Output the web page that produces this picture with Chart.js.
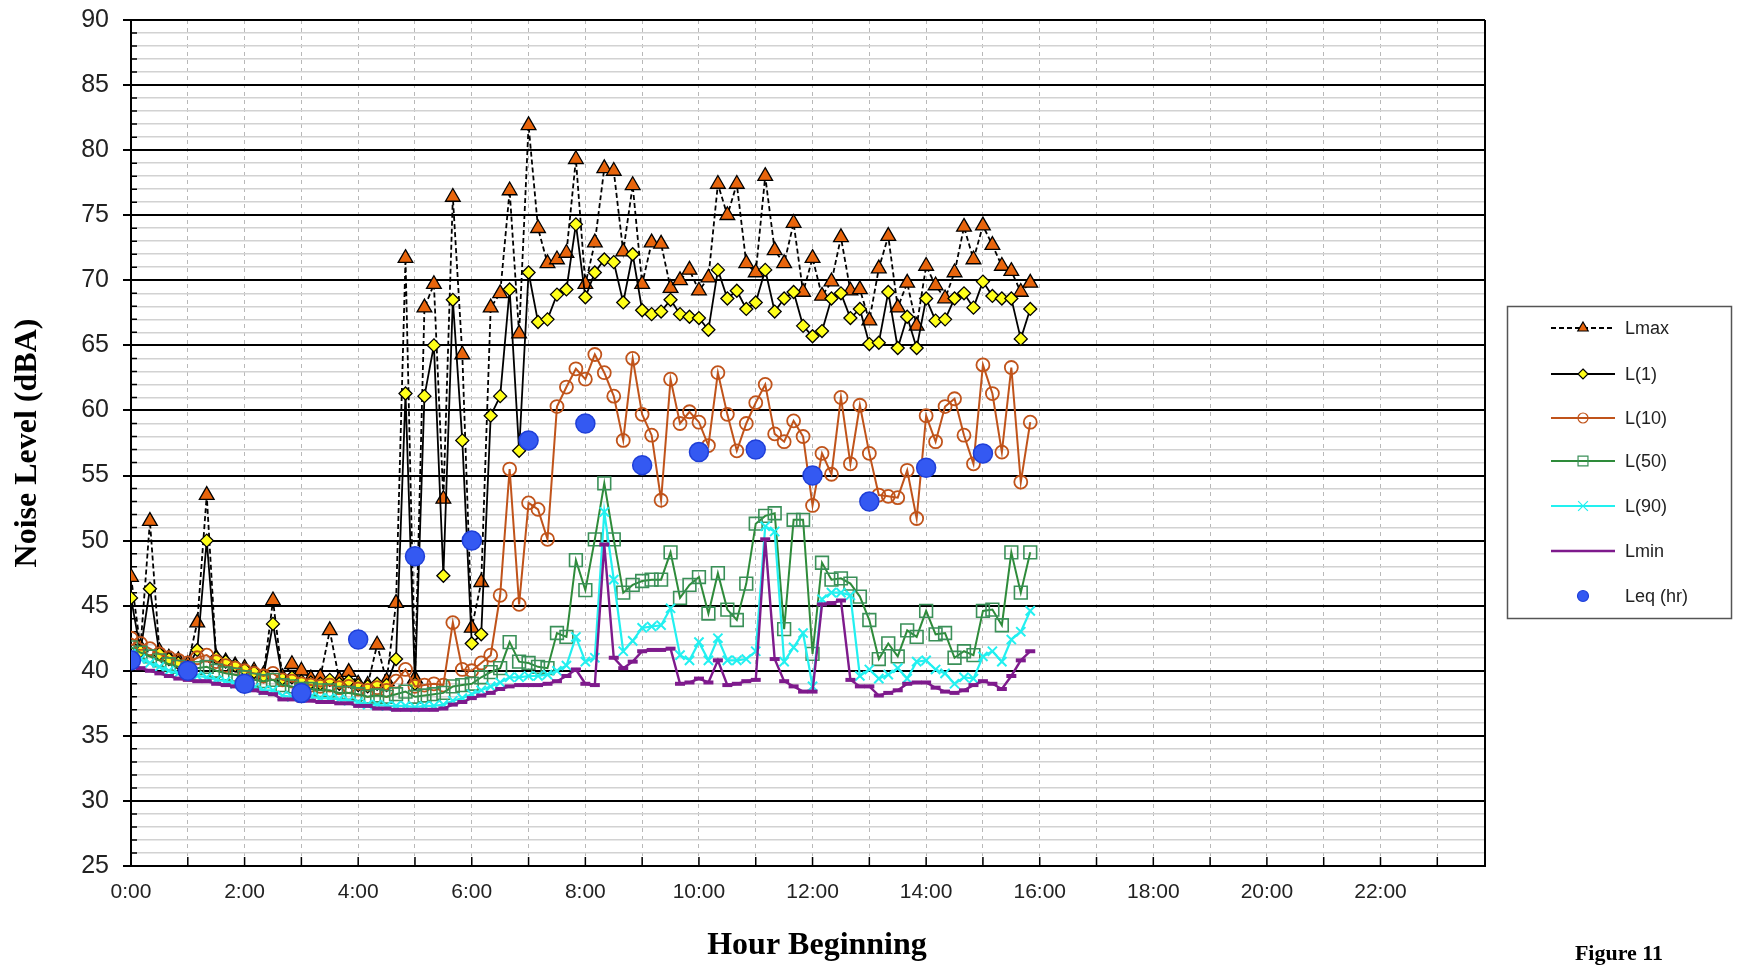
<!DOCTYPE html>
<html>
<head>
<meta charset="utf-8">
<script src="https://cdn.jsdelivr.net/npm/chart.js@4.4.1/dist/chart.umd.min.js"></script>
<style>
  html, body { margin: 0; padding: 0; background: #fff; }
  #wrap { position: relative; width: 1739px; height: 967px; }
</style>
</head>
<body>
<div id="wrap"><canvas id="noise-chart"></canvas></div>
<script>
// 10-minute readings from 0:00 to 15:50 (96 per series)
var lmax = [47.2, 41.8, 51.5, 41.5, 41.0, 40.8, 40.5, 43.7, 53.5, 41.0, 40.7, 40.4,
  40.2, 40.0, 39.7, 45.4, 39.5, 40.5, 40.0, 39.4, 39.5, 43.1, 39.3, 39.9,
  39.0, 38.9, 42.0, 39.2, 45.2, 71.7, 39.4, 67.9, 69.7, 53.2, 76.4, 64.3,
  43.3, 46.8, 67.9, 69.0, 76.9, 65.9, 81.9, 74.0, 71.3, 71.6, 72.1, 79.3,
  69.7, 72.9, 78.6, 78.4, 72.2, 77.3, 69.7, 72.9, 72.8, 69.4, 70.0, 70.8,
  69.2, 70.2, 77.4, 75.0, 77.4, 71.3, 70.6, 78.0, 72.3, 71.3, 74.4, 69.1,
  71.7, 68.8, 69.9, 73.3, 69.2, 69.3, 66.9, 70.9, 73.4, 67.9, 69.8, 66.5,
  71.1, 69.6, 68.6, 70.6, 74.1, 71.6, 74.2, 72.7, 71.1, 70.7, 69.1, 69.8];

var l1 = [45.6, 41.5, 46.3, 41.3, 40.9, 40.6, 40.3, 41.6, 50.0, 41.0, 40.7, 40.4,
  40.1, 39.9, 39.6, 43.6, 39.4, 39.5, 39.2, 39.1, 39.0, 39.3, 39.0, 39.2,
  38.9, 38.8, 39.0, 38.9, 40.9, 61.3, 39.0, 61.1, 65.0, 47.3, 68.5, 57.7,
  42.1, 42.8, 59.6, 61.1, 69.3, 56.9, 70.6, 66.8, 67.0, 68.9, 69.3, 74.3,
  68.7, 70.6, 71.6, 71.4, 68.3, 72.0, 67.7, 67.4, 67.6, 68.5, 67.4, 67.2,
  67.1, 66.2, 70.8, 68.6, 69.2, 67.8, 68.3, 70.8, 67.6, 68.6, 69.1, 66.5,
  65.7, 66.1, 68.6, 69.0, 67.1, 67.8, 65.1, 65.2, 69.1, 64.8, 67.2, 64.8,
  68.6, 66.9, 67.0, 68.6, 69.0, 67.9, 69.9, 68.8, 68.6, 68.6, 65.5, 67.8];

var l10 = [42.5, 42.1, 41.7, 41.3, 41.0, 40.8, 40.6, 41.0, 41.2, 40.7, 40.4, 40.2,
  40.0, 39.8, 39.6, 39.8, 39.3, 39.2, 39.0, 38.9, 38.8, 38.9, 38.7, 38.8,
  38.6, 38.5, 38.7, 38.5, 39.2, 40.1, 38.8, 38.9, 39.0, 38.9, 43.7, 40.1,
  40.0, 40.6, 41.2, 45.8, 55.5, 45.1, 52.9, 52.4, 50.1, 60.3, 61.8, 63.2,
  62.4, 64.3, 62.9, 61.1, 57.7, 64.0, 59.7, 58.1, 53.1, 62.4, 59.0, 59.9,
  59.1, 57.3, 62.9, 59.7, 56.9, 59.0, 60.6, 62.0, 58.2, 57.6, 59.2, 58.0,
  52.7, 56.7, 55.1, 61.0, 55.9, 60.4, 56.7, 53.5, 53.4, 53.3, 55.4, 51.7,
  59.6, 57.6, 60.3, 60.9, 58.1, 55.9, 63.5, 61.3, 56.8, 63.3, 54.5, 59.1];

var l50 = [41.8, 41.4, 41.1, 40.8, 40.5, 40.3, 40.1, 40.2, 40.3, 40.0, 39.8, 39.7,
  39.5, 39.3, 39.2, 39.3, 38.9, 38.8, 38.6, 38.6, 38.5, 38.5, 38.3, 38.3,
  38.2, 38.0, 38.1, 38.0, 38.2, 38.4, 38.0, 38.1, 38.2, 38.3, 38.8, 38.9,
  39.0, 39.5, 39.9, 40.2, 42.2, 40.7, 40.6, 40.3, 40.2, 42.9, 42.6, 48.5,
  46.2, 50.1, 54.4, 50.1, 46.0, 46.6, 46.9, 47.0, 47.0, 49.1, 45.6, 46.6,
  47.2, 44.4, 47.5, 44.7, 43.9, 46.7, 51.3, 51.9, 52.1, 43.2, 51.6, 51.6,
  41.3, 48.3, 47.0, 47.1, 46.7, 45.7, 43.9, 40.9, 42.1, 41.1, 43.1, 42.6,
  44.6, 42.8, 42.9, 41.0, 41.5, 41.2, 44.6, 44.7, 43.5, 49.1, 46.0, 49.1];

var l90 = [41.3, 40.9, 40.6, 40.3, 40.0, 39.8, 39.6, 39.6, 39.5, 39.3, 39.2, 39.0,
  38.9, 38.7, 38.5, 38.5, 38.1, 38.0, 38.0, 38.0, 37.9, 37.9, 37.8, 37.7,
  37.6, 37.4, 37.4, 37.3, 37.3, 37.3, 37.2, 37.3, 37.3, 37.4, 37.7, 37.9,
  38.2, 38.5, 38.8, 39.1, 39.5, 39.5, 39.6, 39.6, 39.7, 40.0, 40.4, 42.6,
  40.7, 41.0, 52.2, 47.0, 41.5, 42.3, 43.3, 43.4, 43.5, 44.8, 41.2, 40.8,
  42.2, 40.8, 42.5, 40.8, 40.8, 40.9, 41.5, 51.1, 50.7, 40.7, 41.8, 42.9,
  38.8, 45.5, 46.0, 46.0, 45.8, 39.6, 40.1, 39.4, 39.7, 40.2, 39.4, 40.7,
  40.8, 40.1, 39.8, 39.0, 39.5, 39.4, 41.1, 41.5, 40.7, 42.4, 43.0, 44.6];

var lmin = [40.5, 40.2, 40.0, 39.8, 39.6, 39.4, 39.3, 39.2, 39.2, 39.0, 38.9, 38.8,
  38.6, 38.5, 38.3, 38.2, 37.8, 37.8, 37.7, 37.7, 37.6, 37.6, 37.5, 37.5,
  37.3, 37.3, 37.1, 37.1, 37.0, 37.0, 37.0, 37.0, 37.0, 37.1, 37.4, 37.6,
  37.9, 38.1, 38.3, 38.6, 38.8, 38.9, 38.9, 38.9, 39.0, 39.2, 39.6, 40.1,
  39.0, 38.9, 49.7, 41.0, 40.2, 40.7, 41.5, 41.6, 41.6, 41.7, 39.0, 39.1,
  39.4, 39.1, 40.8, 38.9, 39.0, 39.2, 39.3, 50.1, 40.9, 39.2, 38.8, 38.4,
  38.4, 45.1, 45.2, 45.4, 39.3, 38.8, 38.8, 38.1, 38.3, 38.5, 39.0, 39.1,
  39.1, 38.7, 38.4, 38.3, 38.5, 38.9, 39.2, 39.0, 38.6, 39.6, 40.8, 41.5];

// hourly Leq
var leqHours = [0, 1, 2, 3, 4, 5, 6, 7, 8, 9, 10, 11, 12, 13, 14, 15];
var leq = [40.8, 40.0, 39.0, 38.3, 42.4, 48.8, 50.0, 57.7, 59.0, 55.8, 56.8, 57.0, 55.0, 53.0, 55.6, 56.7];

var hourLabels = ['0:00', '2:00', '4:00', '6:00', '8:00', '10:00', '12:00', '14:00', '16:00', '18:00', '20:00', '22:00'];

function toPoints(arr) {
  return arr.map(function(v, i) { return {x: i / 6, y: v}; });
}

function drawMarker(ctx, style, x, y, r) {
  ctx.beginPath();
  if (style === 'triangle') {
    ctx.moveTo(x, y - r);
    ctx.lineTo(x + r * 0.866, y + r * 0.5);
    ctx.lineTo(x - r * 0.866, y + r * 0.5);
    ctx.closePath();
    ctx.fill(); ctx.stroke();
  } else if (style === 'rectRot') {
    ctx.moveTo(x, y - r); ctx.lineTo(x + r, y); ctx.lineTo(x, y + r); ctx.lineTo(x - r, y);
    ctx.closePath();
    ctx.fill(); ctx.stroke();
  } else if (style === 'rect') {
    ctx.rect(x - r * 0.707, y - r * 0.707, r * 1.414, r * 1.414);
    ctx.fill(); ctx.stroke();
  } else if (style === 'crossRot') {
    ctx.moveTo(x - r * 0.7, y - r * 0.7); ctx.lineTo(x + r * 0.7, y + r * 0.7);
    ctx.moveTo(x + r * 0.7, y - r * 0.7); ctx.lineTo(x - r * 0.7, y + r * 0.7);
    ctx.stroke();
  } else if (style === 'circle') {
    ctx.arc(x, y, r, 0, Math.PI * 2);
    ctx.fill(); ctx.stroke();
  }
}

var framePlugin = {
  id: 'frame',
  beforeDatasetsDraw: function(chart) {
    var ctx = chart.ctx, a = chart.chartArea;
    var ys = chart.scales.y, xs = chart.scales.x;
    ctx.save();
    ctx.strokeStyle = '#000';
    ctx.lineWidth = 1.5;
    ctx.beginPath();
    for (var v = 26; v < 90; v++) {
      if (v % 5 === 0) continue;
      var py = ys.getPixelForValue(v);
      ctx.moveTo(a.left, py);
      ctx.lineTo(a.left + 6, py);
    }
    for (var h = 1; h <= 23; h++) {
      var px = xs.getPixelForValue(h);
      ctx.moveTo(px, a.bottom);
      ctx.lineTo(px, a.bottom - 9);
    }
    ctx.stroke();
    ctx.lineWidth = 2;
    ctx.beginPath();
    ctx.moveTo(a.right, a.top);
    ctx.lineTo(a.right, a.bottom);
    ctx.stroke();
    ctx.restore();
  }
};

var legendPlugin = {
  id: 'boxLegend',
  afterDraw: function(chart) {
    var ctx = chart.ctx;
    var rows = [328, 374, 418, 461, 506, 551, 596];
    ctx.save();
    ctx.strokeStyle = '#555';
    ctx.lineWidth = 1.5;
    ctx.strokeRect(1507.5, 306.5, 224, 312);
    chart.data.datasets.forEach(function(ds, i) {
      var y = rows[i];
      if (ds.showLine !== false) {
        ctx.beginPath();
        ctx.setLineDash(ds.borderDash || []);
        ctx.strokeStyle = ds.borderColor;
        ctx.lineWidth = ds.borderWidth;
        ctx.moveTo(1551, y);
        ctx.lineTo(1615, y);
        ctx.stroke();
        ctx.setLineDash([]);
      }
      if (ds.legendRadius) {
        ctx.fillStyle = ds.pointBackgroundColor;
        ctx.strokeStyle = ds.pointBorderColor;
        ctx.lineWidth = 1.2;
        drawMarker(ctx, ds.pointStyle, 1583, y, ds.legendRadius);
      }
      ctx.fillStyle = '#222';
      ctx.font = '18px "Liberation Sans", Arial, sans-serif';
      ctx.textAlign = 'left';
      ctx.textBaseline = 'middle';
      ctx.fillText(ds.label, 1625, y + 1);
    });
    ctx.fillStyle = '#000';
    ctx.textAlign = 'center';
    ctx.font = 'bold 32px "Liberation Serif", "Times New Roman", serif';
    ctx.fillText('Hour Beginning', 817, 946);
    ctx.font = 'bold 22px "Liberation Serif", "Times New Roman", serif';
    ctx.fillText('Figure 11', 1619, 954);
    ctx.restore();
  }
};

var ctx = document.getElementById('noise-chart').getContext('2d');

new Chart(ctx, {
  type: 'line',
  data: {
    datasets: [{
      label: 'Lmax',
      data: toPoints(lmax),
      borderColor: '#000',
      borderWidth: 1.8,
      borderDash: [5, 3],
      pointStyle: 'triangle',
      pointRadius: 8.5,
      pointBackgroundColor: '#E8650C',
      pointBorderColor: '#000',
      pointBorderWidth: 1.3,
      legendRadius: 6,
      order: 6
    }, {
      label: 'L(1)',
      data: toPoints(l1),
      borderColor: '#000',
      borderWidth: 1.8,
      pointStyle: 'rectRot',
      pointRadius: 6.5,
      pointBackgroundColor: '#FFFF1A',
      pointBorderColor: '#000',
      pointBorderWidth: 1.3,
      legendRadius: 5,
      order: 5
    }, {
      label: 'L(10)',
      data: toPoints(l10),
      borderColor: '#C0531A',
      borderWidth: 2,
      pointStyle: 'circle',
      pointRadius: 6.5,
      pointBackgroundColor: 'rgba(255,255,255,0)',
      pointBorderColor: '#C0531A',
      pointBorderWidth: 1.8,
      legendRadius: 5,
      order: 4
    }, {
      label: 'L(50)',
      data: toPoints(l50),
      borderColor: '#2E8B3A',
      borderWidth: 2,
      pointStyle: 'rect',
      pointRadius: 9,
      pointBackgroundColor: 'rgba(255,255,255,0)',
      pointBorderColor: '#3A9058',
      pointBorderWidth: 1.6,
      legendRadius: 7,
      order: 3
    }, {
      label: 'L(90)',
      data: toPoints(l90),
      borderColor: '#22F0F0',
      borderWidth: 2.2,
      pointStyle: 'crossRot',
      pointRadius: 6.5,
      pointBackgroundColor: '#22F0F0',
      pointBorderColor: '#22F0F0',
      pointBorderWidth: 2,
      legendRadius: 7,
      order: 2
    }, {
      label: 'Lmin',
      data: toPoints(lmin),
      borderColor: '#7E1A8C',
      borderWidth: 2.4,
      pointStyle: 'line',
      pointRadius: 5,
      pointBackgroundColor: '#7E1A8C',
      pointBorderColor: '#7E1A8C',
      pointBorderWidth: 4,
      legendRadius: 0,
      order: 1
    }, {
      label: 'Leq (hr)',
      data: leqHours.map(function(h, i) { return {x: h, y: leq[i]}; }),
      showLine: false,
      borderColor: '#1F3FD8',
      borderWidth: 1.5,
      pointStyle: 'circle',
      pointRadius: 9.5,
      pointBackgroundColor: '#3459F2',
      pointBorderColor: '#1F3FD8',
      pointBorderWidth: 1.5,
      legendRadius: 5.5,
      order: 0
    }]
  },
  options: {
    responsive: true,
    maintainAspectRatio: false,
    animation: false,
    layout: { padding: { left: 0, right: 254, top: 20, bottom: 0 } },
    elements: { line: { tension: 0 } },
    plugins: {
      legend: { display: false },
      tooltip: { enabled: false }
    },
    scales: {
      x: {
        type: 'linear',
        min: 0,
        max: 23.84,
        afterFit: function(scale) {
          scale.height = 101;
          scale.paddingLeft = 0;
          scale.paddingRight = 0;
        },
        ticks: {
          stepSize: 1,
          autoSkip: false,
          includeBounds: false,
          maxRotation: 0,
          padding: 14,
          color: '#222',
          font: { family: '"Liberation Sans Narrow", "Arial Narrow", "Liberation Sans", Arial, sans-serif', size: 21 },
          callback: function(v) { return v % 2 === 0 ? hourLabels[v / 2] : ''; }
        },
        grid: { color: '#b8b8b8', lineWidth: 1, drawTicks: false },
        border: { color: '#000', width: 2, dash: [4, 4] }
      },
      y: {
        min: 25,
        max: 90,
        afterFit: function(scale) {
          scale.width = 131;
          scale.paddingTop = 0;
          scale.paddingBottom = 0;
        },
        ticks: {
          stepSize: 1,
          autoSkip: false,
          padding: 14,
          color: '#222',
          font: { family: '"Liberation Sans Narrow", "Arial Narrow", "Liberation Sans", Arial, sans-serif', size: 25 },
          callback: function(v) { return v % 5 === 0 ? String(v) : ''; }
        },
        grid: {
          color: function(c) { return c.tick.value % 5 === 0 ? '#000' : '#d2d2d2'; },
          lineWidth: function(c) { return c.tick.value % 5 === 0 ? 2 : 1.6; },
          tickColor: function(c) { return c.tick.value % 5 === 0 ? '#000' : 'rgba(0,0,0,0)'; },
          tickLength: 8,
          tickWidth: 2
        },
        border: { color: '#000', width: 2 },
        title: {
          display: true,
          text: 'Noise Level (dBA)',
          color: '#000',
          padding: { top: 9, bottom: 0 },
          font: { family: '"Liberation Serif", "Times New Roman", serif', size: 32, weight: 'bold' }
        }
      }
    }
  },
  plugins: [framePlugin, legendPlugin]
});
</script>
</body>
</html>
